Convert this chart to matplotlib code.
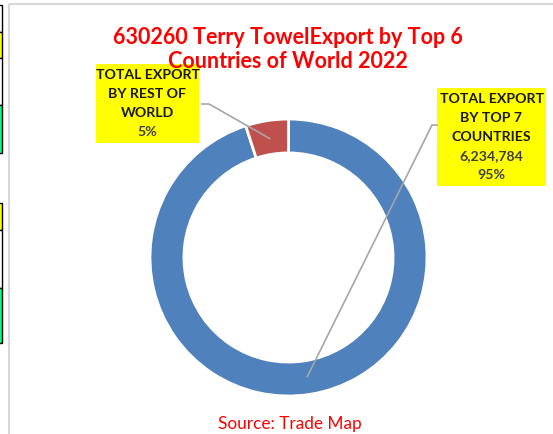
import numpy as np
import matplotlib.pyplot as plt
from matplotlib.patches import Rectangle

# data
etiquetas = ["TOTAL EXPORT\nBY TOP 7\nCOUNTRIES", "TOTAL EXPORT\nBY REST OF\nWORLD"]
valores_txt = ["6,234,784\n95%", "5%"]
porcentajes = [95, 5]
colores = ["#4f81bd", "#c0504d"]

W, H = 553, 434
plt.rcParams['font.family'] = ['Lato', 'DejaVu Sans']

fig = plt.figure(figsize=(W / 100, H / 100), dpi=100)

# capa de fondo en pixeles
capa = fig.add_axes([0, 0, 1, 1])
capa.set_xlim(0, W)
capa.set_ylim(H, 0)
capa.axis("off")

# borde gris del area del grafico
capa.plot([9, 9, W], [H, 4, 4], color="#d9d9d9", lw=1.5)

# restos de otra tabla a la izquierda
restos = [(5, 32, "white"), (32, 58, "#ffff00"), (58, 105, "white"), (105, 153, "#00ff80"),
          (203, 230, "#ffff00"), (230, 288, "white"), (288, 343, "#00ff80")]
for y0, y1, c in restos:
    capa.add_patch(Rectangle((-2, y0), 4, y1 - y0, facecolor=c, edgecolor="black", lw=1))

# dona
cx, cy, r = 288.5, 257.5, 138.5
ax = fig.add_axes([(cx - r) / W, (H - cy - r) / H, 2 * r / W, 2 * r / H])
wedges, _ = ax.pie(porcentajes, colors=colores, startangle=90, counterclock=False,
                   wedgeprops=dict(width=0.245, edgecolor="white", linewidth=2))
ax.set_xlim(-1, 1)
ax.set_ylim(-1, 1)
ax.set_aspect("auto")

# cajas amarillas
cajas = [(437, 88, 109, 98), (96, 64, 103, 79)]
for i, (bx, by, bw, bh) in enumerate(cajas):
    capa.add_patch(Rectangle((bx, by), bw, bh, facecolor="#ffff00", edgecolor="none", zorder=3))
    n1 = etiquetas[i].count("\n") + 1
    n2 = valores_txt[i].count("\n") + 1
    paso = 19
    y_ini = by + bh / 2 - (n1 + n2 - 1) * paso / 2
    for k, linea in enumerate(etiquetas[i].split("\n")):
        capa.text(bx + bw / 2, y_ini + k * paso, linea, ha="center", va="center",
                  fontsize=10.2, fontweight="bold", color="#1a1a1a", zorder=4)
    for k, linea in enumerate(valores_txt[i].split("\n")):
        capa.text(bx + bw / 2, y_ini + (n1 + k) * paso, linea, ha="center", va="center",
                  fontsize=10.2, fontweight="bold", color="#404040", zorder=4)

# lineas guia hacia el centro de cada porcion
for i, w in enumerate(wedges):
    medio = np.deg2rad((w.theta1 + w.theta2) / 2)
    px = cx + 0.87 * r * np.cos(medio)
    py = cy - 0.87 * r * np.sin(medio)
    bx, by, bw, bh = cajas[i]
    if bx > cx:
        xs, ys = [bx, bx - 5, px], [by + bh / 2 - 12, by + bh / 2 - 12, py]
    else:
        xs, ys = [bx + bw + 3, bx + bw + 10, px], [104, 104, py]
    capa.plot(xs, ys, color="#a6a6a6", lw=1.2, zorder=5)

capa.set_zorder(2)
capa.patch.set_alpha(0)

# titulo y fuente
capa.text(288, 38, "630260 Terry TowelExport by Top 6", ha="center", va="center",
          fontsize=15.5, fontweight="bold", color="#ff0000")
capa.text(288, 62, "Countries of World 2022", ha="center", va="center",
          fontsize=15.5, fontweight="bold", color="#ff0000")
capa.text(290, 424, "Source: Trade Map", ha="center", va="center",
          fontsize=12.4, color="#ff0000")

fig.savefig("out.png", dpi=100)
